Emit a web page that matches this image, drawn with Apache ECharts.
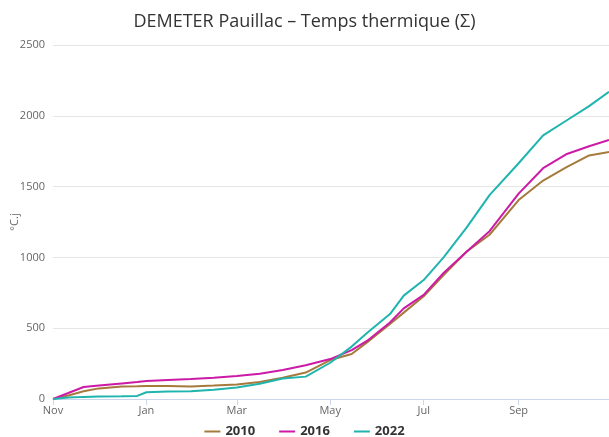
<!DOCTYPE html>
<html lang="fr" style="height: 100%">
<head>
    <meta charset="UTF-8">
    <title>DEMETER Pauillac - Temps thermique</title>
    <script src="https://cdn.jsdelivr.net/npm/echarts@6/dist/echarts.min.js"></script>
</head>
<body style="height: 100%; margin: 0">
<div id="main" style="width: 609px; height: 437px"></div>
<script>
    // jours depuis le 1er novembre
    var days      = [0, 10, 20, 30, 45, 55, 61, 75, 90, 105, 120, 135, 150, 165, 181, 195, 205, 220, 229, 242, 255, 270, 285, 304, 320, 335, 350, 363];
    var temps2010 = [0, 25, 55, 75, 88, 90, 92, 92, 88, 95, 103, 120, 150, 187, 275, 318, 400, 530, 610, 725, 875, 1040, 1160, 1405, 1543, 1635, 1720, 1744];
    var temps2016 = [0, 42, 85, 95, 110, 120, 127, 135, 142, 150, 163, 178, 205, 238, 282, 345, 410, 540, 640, 735, 890, 1040, 1185, 1450, 1630, 1728, 1785, 1830];
    var temps2022 = [0, 10, 15, 18, 20, 22, 48, 53, 55, 65, 82, 108, 145, 158, 256, 370, 466, 600, 730, 840, 1000, 1210, 1440, 1665, 1862, 1965, 2068, 2170];

    var monthDays  = [0, 61, 120, 181, 242, 304];
    var monthNames = ['Nov', 'Jan', 'Mar', 'May', 'Jul', 'Sep'];

    function pairs(vals) {
        return days.map(function (d, i) { return [d, vals[i]]; });
    }

    var myoption = {
        animation: false,
        textStyle: {fontFamily: 'Open Sans'},
        title: {
            text: 'DEMETER Pauillac – Temps thermique (Σ)',
            left: 'center',
            top: 8,
            textStyle: {fontSize: 18, fontWeight: 'normal', color: '#333'}
        },
        legend: {
            bottom: -6,
            left: 'center',
            icon: 'rect',
            itemWidth: 16,
            itemHeight: 2,
            itemGap: 24,
            textStyle: {fontSize: 13, fontWeight: 'bold', color: '#333'},
            data: ['2010', '2016', '2022']
        },
        grid: {left: 53, right: 0, top: 45, bottom: 38, outerBoundsMode: 'none', containLabel: false},
        xAxis: {
            type: 'value',
            min: 0,
            max: 363,
            axisLine: {lineStyle: {color: '#ccd6eb'}},
            axisTick: {show: true, customValues: monthDays, length: 6, lineStyle: {color: '#ccd6eb'}},
            axisLabel: {
                customValues: monthDays,
                color: '#666',
                fontSize: 11,
                margin: 6,
                formatter: function (v) { return monthNames[monthDays.indexOf(v)]; }
            },
            splitLine: {show: false}
        },
        yAxis: {
            type: 'value',
            min: 0,
            max: 2500,
            interval: 500,
            name: '°C.j',
            nameLocation: 'middle',
            nameGap: 33,
            nameMoveOverlap: false,
            nameTextStyle: {color: '#666', fontSize: 11},
            axisLine: {show: false},
            axisTick: {show: false},
            axisLabel: {color: '#666', fontSize: 11, margin: 8, formatter: function (v) { return String(v); }},
            splitLine: {lineStyle: {color: '#e6e6e6'}}
        },
        series: [
            {name: '2010', type: 'line', showSymbol: false, symbol: 'none', data: pairs(temps2010),
             lineStyle: {width: 2, color: '#a67a3c'}, itemStyle: {color: '#a67a3c'}},
            {name: '2016', type: 'line', showSymbol: false, symbol: 'none', data: pairs(temps2016),
             lineStyle: {width: 2, color: '#cc1aa6'}, itemStyle: {color: '#cc1aa6'}},
            {name: '2022', type: 'line', showSymbol: false, symbol: 'none', data: pairs(temps2022),
             lineStyle: {width: 2, color: '#1fb5ae'}, itemStyle: {color: '#1fb5ae'}}
        ]
    };
    var myChart = echarts.init(document.getElementById('main'));
    myChart.setOption(myoption);
</script>
</body>
</html>
